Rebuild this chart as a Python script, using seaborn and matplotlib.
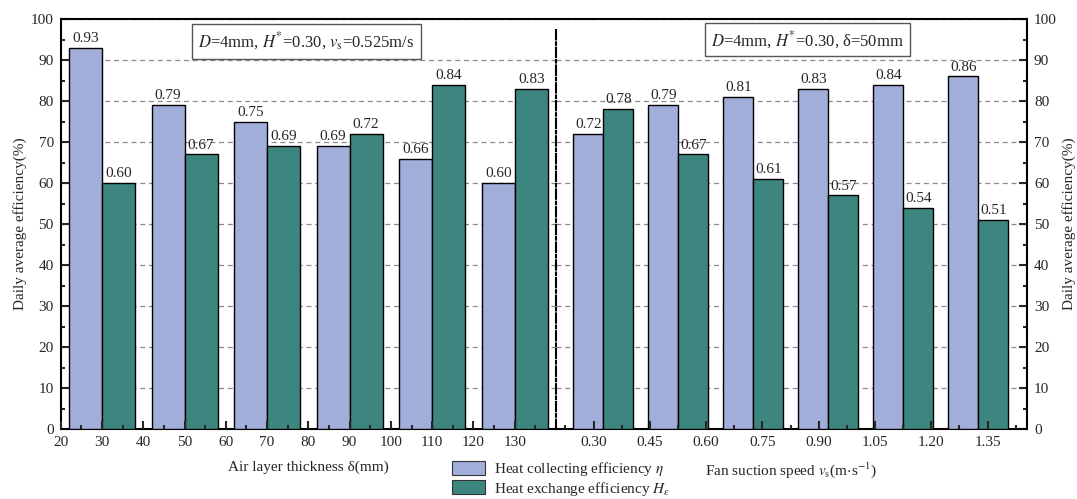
import matplotlib
matplotlib.use("Agg")
import matplotlib.pyplot as plt
import pandas as pd
import seaborn as sns
from matplotlib.patches import Patch
from matplotlib.ticker import MultipleLocator, NullLocator

# Efficiencies versus air layer thickness (mm)
thickness_levels = ["30", "50", "70", "90", "110", "130"]
thickness_eta = [0.93, 0.79, 0.75, 0.69, 0.66, 0.60]
thickness_heps = [0.60, 0.67, 0.69, 0.72, 0.84, 0.83]
thickness_ticks = [20, 30, 40, 50, 60, 70, 80, 90, 100, 110, 120, 130]

# Efficiencies versus fan suction speed (m/s)
speed_levels = ["0.30", "0.50", "0.70", "0.90", "1.10", "1.30"]
speed_eta = [0.72, 0.79, 0.81, 0.83, 0.84, 0.86]
speed_heps = [0.78, 0.67, 0.61, 0.57, 0.54, 0.51]
speed_ticks = [0.30, 0.45, 0.60, 0.75, 0.90, 1.05, 1.20, 1.35]

LAB_ETA = r"Heat collecting efficiency $\eta$"
LAB_HEPS = r"Heat exchange efficiency $H_{\varepsilon}$"
COLORS = {LAB_ETA: "#A2AEDA", LAB_HEPS: "#3D8680"}

sns.set_theme(style="white")
plt.rcParams["font.family"] = ["Liberation Serif", "DejaVu Serif"]
plt.rcParams["mathtext.fontset"] = "stix"
plt.rcParams["font.size"] = 11
plt.rcParams["xtick.direction"] = "in"
plt.rcParams["ytick.direction"] = "in"

W, H = 1077, 499
fig = plt.figure(figsize=(W / 100, H / 100), dpi=100)
fig.patch.set_facecolor("white")

bottom = 1 - 429.3 / H
height = 410.3 / H
axL = fig.add_axes([60.7 / W, bottom, (556 - 60.7) / W, height])
axR = fig.add_axes([556 / W, bottom, (1027 - 556) / W, height])

SPINE_W = 1.5


def draw_panel(ax, levels, eta, heps):
    n = len(levels)
    df = pd.DataFrame({
        "level": levels * 2,
        "series": [LAB_ETA] * n + [LAB_HEPS] * n,
        "pct": [100 * v for v in eta + heps],
    })
    sns.barplot(data=df, x="level", y="pct", hue="series", order=levels,
                hue_order=[LAB_ETA, LAB_HEPS], palette=COLORS, saturation=1,
                width=0.8, errorbar=None, edgecolor="black", linewidth=1.0,
                legend=False, ax=ax, zorder=3)
    for cont, vals in zip(ax.containers, (eta, heps)):
        ax.bar_label(cont, labels=[f"{v:.2f}" for v in vals], padding=2,
                     fontsize=11, zorder=4)
    ax.set_ylim(0, 100)
    ax.yaxis.set_major_locator(MultipleLocator(10))
    ax.yaxis.set_minor_locator(MultipleLocator(5))
    ax.xaxis.set_minor_locator(NullLocator())
    ax.set_xlabel("")
    ax.set_ylabel("")
    ax.tick_params(axis="x", which="both", bottom=False, top=False,
                   labelbottom=False, length=0)
    ax.set_axisbelow(True)
    ax.yaxis.grid(True, which="major", linestyle=(0, (4, 3)),
                  color="#8a8a8a", linewidth=0.9)
    for s in ax.spines.values():
        s.set_linewidth(SPINE_W)
        s.set_color("black")


def bottom_scale(ax, lim, ticks, minors, label):
    t = ax.twiny()
    t.set_xlim(*lim)
    t.xaxis.set_ticks_position("bottom")
    t.xaxis.set_label_position("bottom")
    t.set_xticks(ticks)
    t.set_xticks(minors, minor=True)
    t.set_xticklabels([str(v) if isinstance(v, int) else f"{v:.2f}"
                       for v in ticks])
    t.set_xlim(*lim)
    t.tick_params(axis="x", which="major", direction="in", length=5.5,
                  width=1.5, labelsize=11, pad=5, top=False, bottom=True)
    t.tick_params(axis="x", which="minor", direction="in", length=3,
                  width=1.5, top=False, bottom=True)
    for s in t.spines.values():
        s.set_visible(False)
    t.set_xlabel(label, fontsize=11, labelpad=8)
    return t


# Left panel: air layer thickness
draw_panel(axL, thickness_levels, thickness_eta, thickness_heps)
axL.set_xlim(-0.5, 5.5)
axL.spines["right"].set_visible(False)
axL.tick_params(axis="y", which="major", direction="in", length=5.5,
                width=1.5, left=True, right=False, labelsize=11, pad=5)
axL.tick_params(axis="y", which="minor", direction="in", length=3,
                width=1.5, left=True, right=False)
axL.set_ylabel("Daily average efficiency(%)", fontsize=11, labelpad=3)
thk_minor = [t + 5 for t in thickness_ticks]
bottom_scale(axL, (20, 140), thickness_ticks, thk_minor,
             "Air layer thickness δ(mm)")
axL.text(0.4963, 0.9457,
         r"$D$=4mm, $H^{*}$=0.30, $v_{\mathrm{s}}$=0.525m/s",
         transform=axL.transAxes, ha="center", va="center", fontsize=12,
         zorder=6,
         bbox=dict(boxstyle="square,pad=0.4", facecolor="white",
                   edgecolor="#555555", linewidth=1.0))

# Right panel: fan suction speed
draw_panel(axR, speed_levels, speed_eta, speed_heps)
axR.set_xlim(-0.631, 5.649)
axR.spines["left"].set_linestyle((0, (4.5, 1.4, 1.2, 1.4)))
axR.spines["left"].set_bounds(0, 97.8)
axR.tick_params(axis="y", which="major", direction="in", length=5.5,
                width=1.5, left=False, right=True, labelleft=False,
                labelright=True, labelsize=11, pad=5)
axR.tick_params(axis="y", which="minor", direction="in", length=3,
                width=1.5, left=False, right=True)
axR.yaxis.set_label_position("right")
axR.set_ylabel("Daily average efficiency(%)", fontsize=11, labelpad=4)
spd_minor = [round(t - 0.075, 3) for t in speed_ticks] + [1.425]
bottom_scale(axR, (0.20, 1.455), speed_ticks, spd_minor,
             r"Fan suction speed $v_{\mathrm{s}}$(m$\cdot$s$^{\mathrm{-1}}$)")
axR.text(0.534, 0.9494, r"$D$=4mm, $H^{*}$=0.30, δ=50mm",
         transform=axR.transAxes, ha="center", va="center", fontsize=12,
         zorder=6,
         bbox=dict(boxstyle="square,pad=0.35", facecolor="white",
                   edgecolor="#555555", linewidth=1.0))

# Shared legend below the panels
handles = [Patch(facecolor=COLORS[k], edgecolor="#333333", linewidth=0.8)
           for k in (LAB_ETA, LAB_HEPS)]
fig.legend(handles, [LAB_ETA, LAB_HEPS], loc="upper left",
           bbox_to_anchor=(451.7 / W, 1 - 460 / H), frameon=False,
           borderpad=0, borderaxespad=0, handlelength=2.2, handleheight=1.0,
           handletextpad=0.6, labelspacing=0.1, fontsize=11)

fig.savefig("out.png", dpi=100, facecolor="white")
